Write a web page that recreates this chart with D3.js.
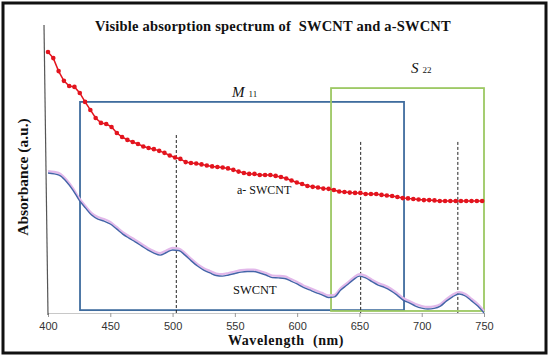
<!DOCTYPE html>
<html>
<head>
<meta charset="utf-8">
<script src="https://cdn.jsdelivr.net/npm/d3@7/dist/d3.min.js"></script>
<style>
    body { margin: 0; background: #fff; }
</style>
</head>
<body>
<div id="graph"></div>
<script>
"use strict";

var serif = "'Liberation Serif', 'Times New Roman', serif";

// a-SWCNT, one marker every 4.25 nm from 400 nm
var redStart = 400, redStep = 4.25;
var redValues = [
    0.906, 0.885, 0.840, 0.806, 0.788, 0.785, 0.764, 0.733, 0.705, 0.677,
    0.660, 0.656, 0.646, 0.625, 0.611, 0.601, 0.594, 0.587, 0.578, 0.573,
    0.569, 0.563, 0.556, 0.547, 0.540, 0.535, 0.524, 0.521, 0.519, 0.516,
    0.512, 0.509, 0.507, 0.505, 0.502, 0.497, 0.491, 0.486, 0.483, 0.483,
    0.479, 0.479, 0.479, 0.476, 0.472, 0.467, 0.460, 0.453, 0.448, 0.441,
    0.438, 0.436, 0.432, 0.431, 0.427, 0.422, 0.420, 0.418, 0.417, 0.417,
    0.413, 0.413, 0.413, 0.410, 0.408, 0.406, 0.403, 0.399, 0.398, 0.396,
    0.394, 0.392, 0.392, 0.391, 0.389, 0.389, 0.389, 0.389, 0.389, 0.389,
    0.389, 0.389, 0.389
];

// SWCNT, every 5 nm from 400 to 750
var blueWavelengths = d3.range(400, 751, 5);
var blueValues = [
    0.486, 0.483, 0.476, 0.455, 0.427, 0.392, 0.365, 0.340, 0.326, 0.319,
    0.309, 0.292, 0.274, 0.260, 0.247, 0.233, 0.219, 0.208, 0.201, 0.210,
    0.219, 0.217, 0.201, 0.181, 0.163, 0.149, 0.139, 0.130, 0.128, 0.132,
    0.137, 0.142, 0.144, 0.144, 0.139, 0.132, 0.123, 0.122, 0.120, 0.111,
    0.101, 0.089, 0.080, 0.071, 0.063, 0.054, 0.056, 0.080, 0.097, 0.115,
    0.128, 0.122, 0.109, 0.097, 0.089, 0.078, 0.063, 0.045, 0.035, 0.024,
    0.017, 0.014, 0.016, 0.024, 0.042, 0.057, 0.066, 0.059, 0.042, 0.024,
    0.000
];

var xTicks = [400, 450, 500, 550, 600, 650, 700, 750];

// peak markers (nm) and how high the dashed line goes
var peakLines = [503, 651, 729];
var peakTops = [0.618, 0.594, 0.594];

// transition boxes: [from nm, to nm, bottom, top]
var boxM11 = [425.7, 685.8, 0.010, 0.733];
var boxS22 = [627.2, 750, 0.007, 0.781];

var width = 550, height = 357;

var x = d3.scaleLinear().domain([400, 750]).range([48, 484]);
var y = d3.scaleLinear().domain([0, 1]).range([313, 25]);

var svg = d3.select("#graph")
    .append("svg")
    .attr("width", width)
    .attr("height", height);

// outer frame
svg.append("rect")
    .attr("x", 3).attr("y", 3)
    .attr("width", 543).attr("height", 350)
    .attr("fill", "#fff")
    .attr("stroke", "#111")
    .attr("stroke-width", 3);

// x axis
var xAxis = svg.append("g")
    .attr("transform", "translate(0," + y(0) + ")")
    .call(d3.axisBottom(x).tickValues(xTicks).tickSize(4).tickFormat(d3.format("d")));
xAxis.select(".domain").attr("stroke", "#c8c8c8");
xAxis.selectAll(".tick line").attr("stroke", "#999");
xAxis.selectAll(".tick text")
    .attr("dy", "0.9em")
    .style("font-family", "Arial, 'Liberation Sans', sans-serif")
    .style("font-size", "11px")
    .attr("fill", "#333");

// y axis line (no ticks)
svg.append("line")
    .attr("x1", x(400) - 4).attr("y1", y(1))
    .attr("x2", x(400)).attr("y2", y(0) + 2)
    .attr("stroke", "#555")
    .attr("stroke-width", 1.2);

drawBox(boxM11, "#3f6c9e");
drawBox(boxS22, "#9cc862");

function drawBox(b, color) {
    svg.append("rect")
        .attr("x", x(b[0]))
        .attr("y", y(b[3]))
        .attr("width", x(b[1]) - x(b[0]))
        .attr("height", y(b[2]) - y(b[3]))
        .attr("fill", "none")
        .attr("stroke", color)
        .attr("stroke-width", 1.8);
}

// dashed peak lines
svg.selectAll(".peak")
    .data(peakLines)
    .enter()
    .append("line")
    .attr("class", "peak")
    .attr("x1", function (d) { return x(d); })
    .attr("x2", function (d) { return x(d); })
    .attr("y1", function (d, i) { return y(peakTops[i]); })
    .attr("y2", y(0))
    .attr("stroke", "#222")
    .attr("stroke-width", 1)
    .attr("stroke-dasharray", "3,2");

// SWCNT line, pink shadow then blue
var blueLine = d3.line()
    .x(function (d, i) { return x(blueWavelengths[i]); })
    .y(function (d) { return y(d); })
    .curve(d3.curveMonotoneX);

svg.append("path")
    .datum(blueValues)
    .attr("d", blueLine)
    .attr("transform", "translate(0,-2)")
    .attr("fill", "none")
    .attr("stroke", "#e2b8ea")
    .attr("stroke-width", 2.2);

svg.append("path")
    .datum(blueValues)
    .attr("d", blueLine)
    .attr("fill", "none")
    .attr("stroke", "#4464a8")
    .attr("stroke-width", 1.4);

// a-SWCNT line with markers
function redX(i) { return x(redStart + i * redStep); }

svg.append("path")
    .datum(redValues)
    .attr("d", d3.line()
        .x(function (d, i) { return redX(i); })
        .y(function (d) { return y(d); }))
    .attr("fill", "none")
    .attr("stroke", "#e3141e")
    .attr("stroke-width", 1.5);

svg.selectAll(".dot")
    .data(redValues)
    .enter()
    .append("circle")
    .attr("class", "dot")
    .attr("cx", function (d, i) { return redX(i); })
    .attr("cy", function (d) { return y(d); })
    .attr("r", 2.3)
    .attr("fill", "#e3141e");

// texts
function addText(tx, ty, str, size, bold) {
    return svg.append("text")
        .attr("x", tx).attr("y", ty)
        .style("font-family", serif)
        .style("font-size", size + "px")
        .style("font-weight", bold ? "bold" : "normal")
        .attr("fill", "#111")
        .text(str);
}

addText(273, 31, "Visible absorption spectrum of  SWCNT and a-SWCNT", 14.5, true)
    .attr("text-anchor", "middle")
    .style("letter-spacing", "0.2px")
    .style("white-space", "pre");

addText(0, 0, "Absorbance (a.u.)", 15.5, true)
    .attr("transform", "translate(28,177) rotate(-90)")
    .attr("text-anchor", "middle");

addText(286, 345, "Wavelength  (nm)", 14, true)
    .attr("text-anchor", "middle")
    .style("letter-spacing", "0.6px")
    .style("white-space", "pre");

addText(237, 194, "a- SWCNT", 12, false);
addText(233, 294, "SWCNT", 12.5, false);

addLabel(232, 97, "M", "11");
addLabel(411, 73, "S", "22");

function addLabel(lx, ly, letter, sub) {
    var t = svg.append("text")
        .attr("x", lx).attr("y", ly)
        .style("font-family", serif)
        .attr("fill", "#111");
    t.append("tspan")
        .style("font-size", "15px")
        .style("font-style", "italic")
        .text(letter);
    t.append("tspan")
        .attr("dx", 4)
        .style("font-size", "9px")
        .text(sub);
}
</script>
</body>
</html>
